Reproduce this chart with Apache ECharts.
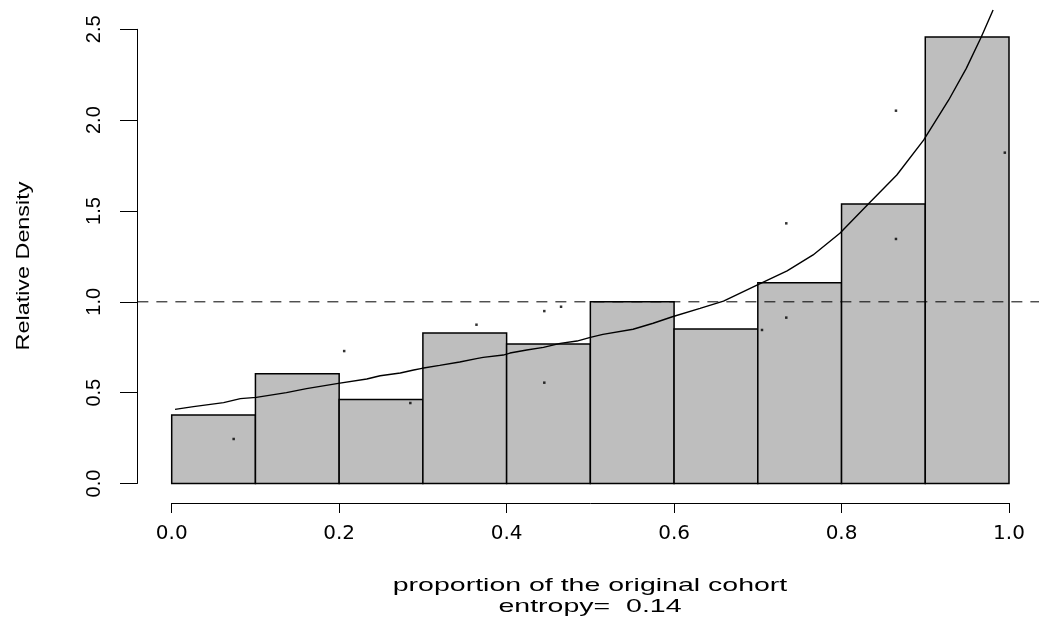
<!DOCTYPE html>
<html>
<head>
<meta charset="utf-8">
<title>Relative Density</title>
<script src="https://cdn.jsdelivr.net/npm/echarts@6/dist/echarts.min.js"></script>
<style>
  html, body { margin: 0; padding: 0; background: #ffffff; }
  #chart { width: 1039px; height: 621px; }
</style>
</head>
<body>
<div id="chart"></div>
<script>
// Histogram bins (left / right edges) and their relative density
const binLeft  = [0.0, 0.1, 0.2, 0.3, 0.4, 0.5, 0.6, 0.7, 0.8, 0.9];
const binRight = [0.1, 0.2, 0.3, 0.4, 0.5, 0.6, 0.7, 0.8, 0.9, 1.0];
const relDensity = [0.377, 0.604, 0.463, 0.828, 0.768, 1.0, 0.85, 1.105, 1.538, 2.457];

// Smoothed relative density curve
const curveX = [0.004, 0.026, 0.062, 0.082, 0.101, 0.137, 0.161, 0.199, 0.233, 0.249,
                0.273, 0.289, 0.299, 0.320, 0.344, 0.364, 0.372, 0.396, 0.404, 0.424,
                0.444, 0.464, 0.484, 0.500, 0.515, 0.551, 0.575, 0.598, 0.631, 0.659,
                0.699, 0.735, 0.766, 0.798, 0.834, 0.866, 0.898, 0.928, 0.949, 0.967, 0.981];
const curveY = [0.408, 0.423, 0.445, 0.467, 0.474, 0.500, 0.522, 0.551, 0.575, 0.593,
                0.608, 0.625, 0.634, 0.650, 0.669, 0.687, 0.694, 0.707, 0.718, 0.735,
                0.749, 0.771, 0.784, 0.804, 0.821, 0.849, 0.882, 0.918, 0.964, 1.004,
                1.092, 1.170, 1.258, 1.377, 1.548, 1.698, 1.890, 2.111, 2.285, 2.459, 2.606];

// Individual points
const dotX = [0.074, 0.206, 0.285, 0.364, 0.445, 0.465, 0.445, 0.705, 0.734, 0.734, 0.865, 0.865, 0.995];
const dotY = [0.245, 0.729, 0.443, 0.874, 0.949, 0.973, 0.555, 0.845, 0.913, 1.432, 2.052, 1.346, 1.821];

// Reference level (dashed line spanning the whole plot region)
const refLevel = 1.0;
const refSpan = [-0.041, 1.037];

// Axis ticks
const xTicks = [0.0, 0.2, 0.4, 0.6, 0.8, 1.0];
const yTicks = [0.0, 0.5, 1.0, 1.5, 2.0, 2.5];

const xTitle = 'proportion of the original cohort';
const xSubtitle = 'entropy=  0.14';
const yTitle = 'Relative Density';

const chart = echarts.init(document.getElementById('chart'), null, { renderer: 'canvas' });

const bins = binLeft.map((l, i) => [l, binRight[i], relDensity[i]]);

const option = {
  animation: false,
  backgroundColor: '#ffffff',
  grid: { left: 171.7, right: 30, top: 29.3, bottom: 137.5, containLabel: false },
  xAxis: {
    type: 'value',
    min: xTicks[0],
    max: xTicks[xTicks.length - 1],
    interval: xTicks[1] - xTicks[0],
    offset: 19.5,
    axisLine: { show: true, onZero: false, lineStyle: { color: '#000', width: 1 } },
    axisTick: { show: true, length: 10, lineStyle: { color: '#000', width: 1 } },
    axisLabel: {
      margin: 21,
      color: '#000',
      fontFamily: 'DejaVu Sans',
      fontSize: 20,
      formatter: v => v.toFixed(1)
    },
    splitLine: { show: false }
  },
  yAxis: {
    type: 'value',
    min: yTicks[0],
    max: yTicks[yTicks.length - 1],
    interval: yTicks[1] - yTicks[0],
    offset: 34.7,
    axisLine: { show: true, onZero: false, lineStyle: { color: '#000', width: 1 } },
    axisTick: { show: true, length: 17, lineStyle: { color: '#000', width: 1 } },
    axisLabel: {
      rotate: 90,
      margin: 33,
      color: '#000',
      fontFamily: '"Liberation Sans Narrow", "Liberation Sans", sans-serif',
      fontSize: 20,
      formatter: v => v.toFixed(1)
    },
    splitLine: { show: false }
  },
  graphic: [
    {
      type: 'text',
      x: 590, y: 586, scaleX: 1.5,
      style: {
        text: xTitle, x: 0, y: 0, align: 'center', verticalAlign: 'middle',
        fill: '#000', font: '19px "Liberation Sans", Arial, sans-serif'
      }
    },
    {
      type: 'text',
      x: 590, y: 607, scaleX: 1.5,
      style: {
        text: xSubtitle, x: 0, y: 0, align: 'center', verticalAlign: 'middle',
        fill: '#000', font: '19px "Liberation Sans", Arial, sans-serif'
      }
    },
    {
      type: 'text',
      x: 24, y: 266, rotation: Math.PI / 2, scaleX: 1.23,
      style: {
        text: yTitle, x: 0, y: 0, align: 'center', verticalAlign: 'middle',
        fill: '#000', font: '19px "Liberation Sans", Arial, sans-serif'
      }
    }
  ],
  series: [
    {
      name: 'histogram',
      type: 'custom',
      data: bins,
      encode: { x: [0, 1], y: 2 },
      renderItem: (params, api) => {
        const p0 = api.coord([api.value(0), api.value(2)]);
        const p1 = api.coord([api.value(1), 0]);
        return {
          type: 'rect',
          shape: { x: p0[0], y: p0[1], width: p1[0] - p0[0], height: p1[1] - p0[1] },
          style: { fill: '#bebebe', stroke: '#000', lineWidth: 1.5 }
        };
      },
      z: 1
    },
    {
      name: 'reference',
      type: 'custom',
      data: [[refSpan[0], refSpan[1], refLevel]],
      encode: { x: [0, 1], y: 2 },
      clip: false,
      silent: true,
      renderItem: (params, api) => {
        const a = api.coord([api.value(0), api.value(2)]);
        const b = api.coord([api.value(1), api.value(2)]);
        return {
          type: 'line',
          shape: { x1: a[0], y1: a[1], x2: b[0], y2: b[1] },
          style: { stroke: '#000', lineWidth: 1, lineDash: [11, 8] }
        };
      },
      z: 2
    },
    {
      name: 'density',
      type: 'line',
      data: curveX.map((x, i) => [x, curveY[i]]),
      clip: false,
      symbol: 'none',
      smooth: false,
      lineStyle: { color: '#000', width: 1.4 },
      z: 3
    },
    {
      name: 'points',
      type: 'scatter',
      data: dotX.map((x, i) => [x, dotY[i]]),
      symbol: 'rect',
      symbolSize: 2.5,
      itemStyle: { color: '#000' },
      z: 4
    }
  ]
};

chart.setOption(option);
</script>
</body>
</html>
